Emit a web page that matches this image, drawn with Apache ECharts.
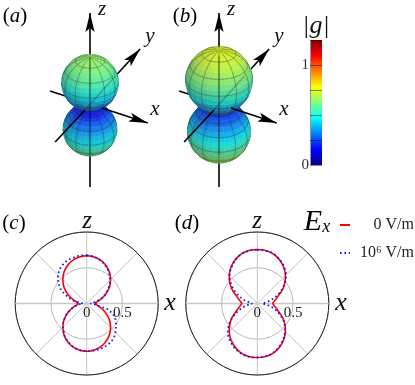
<!DOCTYPE html>
<html><head><meta charset="utf-8">
<style>html,body{margin:0;padding:0;background:#fff}#c{width:415px;height:385px}</style>
<script src="https://cdn.jsdelivr.net/npm/echarts@6/dist/echarts.min.js"></script>
</head><body><div id="c"></div>
<script>
// theta measured clockwise from +z, 5 degree steps, 0..355
const redC = [.667,.665,.658,.645,.628,.605,.578,.548,.512,.472,.43,.385,.335,.285,.235,.19,.15,.12,.1,
 .12,.15,.19,.235,.285,.335,.385,.43,.472,.512,.548,.578,.605,.628,.645,.658,.665,.667,
 .665,.658,.645,.628,.605,.578,.548,.512,.472,.43,.385,.335,.285,.235,.19,.15,.12,.1,
 .12,.15,.19,.235,.285,.335,.385,.43,.472,.512,.548,.578,.605,.628,.645,.658,.665];
const blueC = [.675,.67,.66,.645,.625,.60,.57,.54,.50,.46,.42,.375,.325,.275,.225,.17,.12,.08,.05,
 .10,.15,.30,.37,.43,.47,.50,.53,.57,.60,.625,.64,.65,.66,.665,.667,.667,.667,
 .665,.66,.645,.625,.60,.575,.545,.50,.47,.43,.38,.335,.28,.235,.19,.14,.10,.05,
 .08,.165,.23,.29,.36,.43,.48,.53,.565,.60,.625,.645,.66,.665,.67,.675,.675];
const redD = [.755,.755,.75,.74,.72,.697,.667,.634,.597,.556,.51,.463,.414,.362,.31,.28,.25,.23,.215,
 .23,.25,.28,.31,.362,.414,.463,.51,.556,.597,.634,.667,.697,.72,.74,.75,.755,.755,
 .755,.75,.74,.72,.697,.667,.634,.597,.556,.51,.463,.414,.362,.31,.28,.25,.23,.215,
 .23,.25,.28,.31,.362,.414,.463,.51,.556,.597,.634,.667,.697,.72,.74,.75,.755];
const blueD = [.75,.75,.745,.74,.725,.70,.675,.645,.61,.57,.52,.465,.40,.335,.27,.21,.15,.10,.07,
 .10,.16,.22,.28,.34,.40,.46,.51,.55,.59,.625,.66,.69,.715,.735,.745,.75,.755,
 .755,.755,.745,.73,.71,.685,.655,.625,.585,.535,.475,.41,.34,.27,.21,.15,.10,.07,
 .09,.127,.19,.25,.31,.375,.44,.50,.55,.59,.625,.66,.69,.715,.735,.745,.75];
const seriesNames = ['0 V/m','10⁶ V/m'];
const radiusTicks = ['0','0.5'];
const colorbarTicks = {'0':'0','1':'1'};
const jetStops = [[0,'#00008f'],[.125,'#0000ff'],[.375,'#00ffff'],[.625,'#ffff00'],[.875,'#ff0000'],[1,'#800000']];
const colorbarRange = [0,1.25];
const colorScaleMax = 1.26;
// axis segments in panel units: u0,v0,u1,v1,arrow,opacity
const axesBehind = [[0,-.976,0,1.07,1,1],[-.47,.153,0,0,0,1],[0,0,.59,.647,1,1]];
const axesFront  = [[.14,-.046,.68,-.224,1,1],[-.41,-.447,-.06,-.07,0,1],[0,-.6,0,.56,0,.3],[-.06,-.07,.3,.33,0,.22]];
const xSpoke = [[1,0],[0,0],[1,180]];

const serif = '"Liberation Serif","DejaVu Serif",serif';
const ELEV = 33*Math.PI/180, DIST = 7, SURF_SCALE = .97, SURF_DROP = .03;
const ce = Math.cos(ELEV), se = Math.sin(ELEV);
const light = (()=>{const l=[.25,-.55,.8],n=Math.hypot(...l);return l.map(a=>a/n)})();
const view = [0,-ce,se];

function hexRgb(h){return [1,3,5].map(i=>parseInt(h.substr(i,2),16))}
function jet(val){
  const t=Math.max(0,Math.min(1,val/colorScaleMax));
  for(let i=1;i<jetStops.length;i++){
    if(t<=jetStops[i][0]){
      const a=jetStops[i-1],b=jetStops[i],k=(t-a[0])/(b[0]-a[0]);
      const A=hexRgb(a[1]),B=hexRgb(b[1]);
      return A.map((c,j)=>c+(B[j]-c)*k);
    }
  }
  return hexRgb('#800000');
}
function buildPatches(profile){
  const prof=profile.slice(0,37), nT=prof.length-1, nP=36, P=[];
  for(let i=0;i<=nT;i++){
    const th=i*5*Math.PI/180,row=[];
    for(let j=0;j<=nP;j++){
      const ph=j*10*Math.PI/180,r=prof[i];
      row.push([r*Math.sin(th)*Math.cos(ph),r*Math.sin(th)*Math.sin(ph),r*Math.cos(th)]);
    }
    P.push(row);
  }
  const proj=p=>{
    const w=-p[1]*ce+p[2]*se, f=SURF_SCALE*DIST/(DIST-w);
    return [p[0]*f,(p[2]*ce+p[1]*se)*f-SURF_DROP];
  };
  const out=[];
  for(let i=0;i<nT;i++)for(let j=0;j<nP;j++){
    const a=P[i][j],b=P[i+1][j],c=P[i+1][j+1],d=P[i][j+1];
    const s=c.map((v,k)=>v-a[k]),q=d.map((v,k)=>v-b[k]);
    const n=[s[1]*q[2]-s[2]*q[1],s[2]*q[0]-s[0]*q[2],s[0]*q[1]-s[1]*q[0]];
    const len=Math.hypot(...n)||1,N=n.map(v=>v/len);
    if(N[0]*view[0]+N[1]*view[1]+N[2]*view[2]<=0)continue;
    const m=[0,1,2].map(k=>(a[k]+b[k]+c[k]+d[k])/4);
    const depth=-m[1]*ce+m[2]*se;
    const val=(prof[i]+prof[i+1])/2;
    const shade=.6+.36*Math.max(0,N[0]*light[0]+N[1]*light[1]+N[2]*light[2]);
    const rgb=jet(val).map(v=>Math.min(255,Math.round(v*shade*.9+22)));
    out.push({pts:[a,b,c,d].map(proj),depth,color:`rgb(${rgb.join(',')})`,
      edgeTop:i%3===0,edgeLeft:j%3===0,edgeBottom:(i+1)%3===0,edgeRight:(j+1)%3===0});
  }
  out.sort((x,y)=>x.depth-y.depth);
  return out;
}
function surfaceSeries(grid,profile){
  const patches=buildPatches(profile);
  return {type:'custom',coordinateSystem:'cartesian2d',xAxisIndex:grid,yAxisIndex:grid,z:3,
    silent:true,animation:false,progressive:0,clip:false,
    data:patches.map((_,i)=>[i]),
    renderItem(params,api){
      const p=patches[api.value(0)],c=p.pts.map(q=>api.coord(q));
      const lineStyle={stroke:'rgba(30,50,50,.55)',lineWidth:.6,fill:null};
      const kids=[{type:'polygon',shape:{points:c},style:{fill:p.color,stroke:p.color,lineWidth:.5}}];
      const add=(A,B)=>kids.push({type:'line',shape:{x1:A[0],y1:A[1],x2:B[0],y2:B[1]},style:lineStyle});
      if(p.edgeTop)add(c[0],c[3]);
      if(p.edgeBottom)add(c[1],c[2]);
      if(p.edgeLeft)add(c[0],c[1]);
      if(p.edgeRight)add(c[3],c[2]);
      return {type:'group',children:kids};
    }};
}
function axisSeries(grid,rows,z){
  return {type:'custom',coordinateSystem:'cartesian2d',xAxisIndex:grid,yAxisIndex:grid,z,
    silent:true,animation:false,clip:false,data:rows,
    renderItem(params,api){
      const A=api.coord([api.value(0),api.value(1)]),B=api.coord([api.value(2),api.value(3)]);
      const arrow=api.value(4),op=api.value(5);
      const kids=[{type:'line',shape:{x1:A[0],y1:A[1],x2:B[0],y2:B[1]},
        style:{stroke:'#000',lineWidth:1.6,opacity:op,fill:null}}];
      if(arrow){
        const L=Math.hypot(B[0]-A[0],B[1]-A[1]),d=[(B[0]-A[0])/L,(B[1]-A[1])/L],n=[-d[1],d[0]];
        const at=(a,b)=>[B[0]-a*d[0]+b*n[0],B[1]-a*d[1]+b*n[1]];
        kids.push({type:'polygon',shape:{points:[at(0,0),at(19,4.6),at(15,0),at(19,-4.6)]},style:{fill:'#000'}});
      }
      return {type:'group',children:kids};
    }};
}
const polarAngle=deg=>(deg+270)%360;
function toPolar(vals){return vals.map((r,i)=>[r,polarAngle(i*5)]).concat([[vals[0],polarAngle(0)]])}
function polarSet(idx,red,blue){
  return [
    {type:'line',coordinateSystem:'polar',polarIndex:idx,data:xSpoke.map(d=>[d[0],polarAngle((d[1]+90)%360)]),
      symbol:'none',silent:true,animation:false,z:1,lineStyle:{color:'#c8c8c8',width:1.6},name:'spoke'},
    {type:'line',name:seriesNames[0],coordinateSystem:'polar',polarIndex:idx,data:toPolar(red),symbol:'none',
      animation:false,z:3,lineStyle:{color:'#ff0000',width:1.6},itemStyle:{color:'#ff0000'}},
    {type:'line',name:seriesNames[1],coordinateSystem:'polar',polarIndex:idx,data:toPolar(blue),symbol:'none',
      animation:false,z:4,lineStyle:{color:'#1414ff',width:1.8,type:[1.6,2.8]},itemStyle:{color:'#1414ff'}}
  ];
}
const hiddenAxis=(min,max,gridIndex)=>({type:'value',min,max,show:false,gridIndex});
const pl=(x,y,name)=>({type:'text',x,y,silent:true,style:{text:'{u|(}{i|'+name+'}{u|)}',align:'center',verticalAlign:'middle',
  rich:{u:{fontFamily:serif,fontSize:21,fontStyle:'normal'},i:{fontFamily:serif,fontSize:21,fontStyle:'italic'}}}});
const mt=(x,y,text,size)=>({type:'text',x,y,silent:true,style:{text,font:'italic '+size+'px '+serif,fill:'#111',align:'center',verticalAlign:'middle'}});

const polarBase=(i,cx)=>({center:[cx,303.5],radius:[0,71.5]});
const angleAxis=i=>({polarIndex:i,type:'value',min:0,max:360,startAngle:0,clockwise:true,interval:45,
  axisLine:{lineStyle:{color:'#222',width:1}},axisTick:{show:false},axisLabel:{show:false},
  splitLine:{show:true,lineStyle:{color:'#c4c4c4',width:1}}});
const radiusAxis=i=>({polarIndex:i,type:'value',min:0,max:1,interval:.5,
  axisLine:{show:false},axisTick:{show:false},
  axisLabel:{show:true,margin:-17,color:'#222',fontFamily:serif,fontSize:15,
    formatter:v=>v===0?radiusTicks[0]:(v===.5?radiusTicks[1]:'')},
  splitLine:{show:true,lineStyle:{color:'#b8b8b8',width:1}}});

const chart=echarts.init(document.getElementById('c'),null,{renderer:'canvas'});
chart.setOption({
  animation:false,backgroundColor:'#fff',
  grid:[
    {left:5,width:170,top:2,height:204},
    {left:134,width:170,top:2,height:204},
    {left:310,width:12,top:40,height:125}
  ],
  xAxis:[hiddenAxis(-1,1,0),hiddenAxis(-1,1,1),hiddenAxis(0,1,2)],
  yAxis:[hiddenAxis(-1.2,1.2,0),hiddenAxis(-1.2,1.2,1),
    {type:'value',gridIndex:2,min:colorbarRange[0],max:colorbarRange[1],interval:.25,z:6,
     axisLine:{show:true,lineStyle:{color:'#999',width:1}},
     axisTick:{show:true,inside:true,length:12,lineStyle:{color:'rgba(0,0,0,.45)',width:1}},
     splitLine:{show:false},
     axisLabel:{color:'#333',fontFamily:serif,fontSize:15,margin:1,showMinLabel:true,showMaxLabel:true,
       formatter:v=>colorbarTicks[String(v)]||''}}],
  polar:[polarBase(0,86.7),polarBase(1,257.3)],
  angleAxis:[angleAxis(0),angleAxis(1)],
  radiusAxis:[radiusAxis(0),radiusAxis(1)],
  legend:{data:seriesNames,orient:'vertical',left:334,top:212,itemWidth:10,itemHeight:12,itemGap:12,selectedMode:false,
    itemStyle:{opacity:0},
    formatter:n=>'{a|'+n+'}',
    textStyle:{fontFamily:serif,fontSize:16,color:'#222',rich:{a:{width:59,align:'right',fontFamily:serif,fontSize:16,color:'#222'}}}},
  series:[
    axisSeries(0,axesBehind,2),surfaceSeries(0,redC),axisSeries(0,axesFront,4),
    axisSeries(1,axesBehind,2),surfaceSeries(1,redD),axisSeries(1,axesFront,4),
    {type:'custom',coordinateSystem:'cartesian2d',xAxisIndex:2,yAxisIndex:2,z:3,silent:true,animation:false,
     data:[[0,1,colorbarRange[0],colorbarRange[1]]],
     renderItem(p,api){
       const a=api.coord([api.value(0),api.value(3)]),b=api.coord([api.value(1),api.value(2)]);
       return {type:'rect',shape:{x:a[0],y:a[1],width:b[0]-a[0],height:b[1]-a[1]},
         style:{fill:new echarts.graphic.LinearGradient(0,1,0,0,jetStops.map(s=>({offset:s[0],color:s[1]})))}};
     }},
    ...polarSet(0,redC,blueC),
    ...polarSet(1,redD,blueD)
  ],
  graphic:[
    pl(15,16,'a'),pl(185,16,'b'),pl(14,223,'c'),pl(187,223,'d'),
    mt(102,9,'z',21),mt(150,36,'y',21),mt(155,109,'x',21),
    mt(231,9,'z',21),mt(279,36,'y',21),mt(284,109,'x',21),
    mt(316,26,'|g|',26),
    mt(87,221,'z',25),mt(170,303,'x',26),
    mt(257,221,'z',25),mt(341,303,'x',26),
    {type:'text',x:317,y:222,silent:true,style:{text:'{e|E}{s|x}',align:'center',verticalAlign:'middle',
      rich:{e:{fontFamily:serif,fontStyle:'italic',fontSize:30},s:{fontFamily:serif,fontStyle:'italic',fontSize:18,padding:[10,0,0,0]}}}}
  ]
});
</script></body></html>
